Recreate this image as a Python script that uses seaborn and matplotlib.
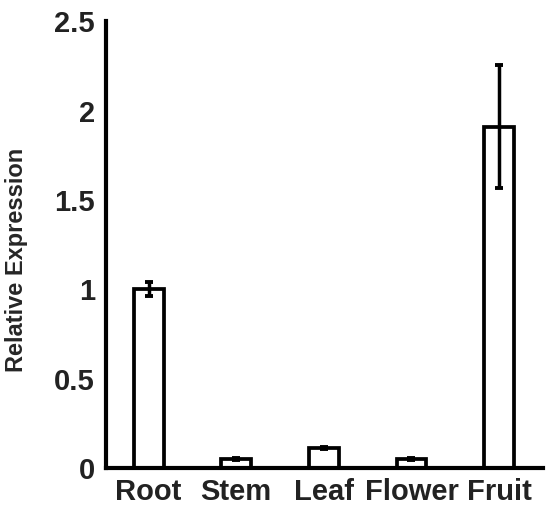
import numpy as np
import pandas as pd
import matplotlib
matplotlib.use("Agg")
import matplotlib.pyplot as plt
import seaborn as sns

# data
tissues = ["Root", "Stem", "Leaf", "Flower", "Fruit"]
expression = [1.0, 0.05, 0.11, 0.05, 1.91]
errors = [0.04, 0.005, 0.005, 0.005, 0.345]
y_ticks = [0, 0.5, 1, 1.5, 2, 2.5]
y_tick_labels = ["0", "0.5", "1", "1.5", "2", "2.5"]

df = pd.DataFrame({"Tissue": tissues, "Expression": expression, "Err": errors})

sns.set_theme(style="white")
plt.rcParams["font.family"] = ["Liberation Sans", "DejaVu Sans"]

fig = plt.figure(figsize=(5.5, 5.17), dpi=100)
ax = fig.add_axes([0.193, 0.095, 0.794, 0.864])

sns.barplot(data=df, x="Tissue", y="Expression", color="white",
            edgecolor="black", linewidth=2.7, width=0.34, errorbar=None, ax=ax)

ax.errorbar(np.arange(len(tissues)), df["Expression"], yerr=df["Err"],
            fmt="none", ecolor="black", elinewidth=2.5, capsize=3, capthick=2.8)

ax.set_ylim(0, 2.5)
ax.set_xlim(-0.485, 4.5)
ax.set_yticks(y_ticks)
ax.set_yticklabels(y_tick_labels)
ax.set_xlabel("")
ax.set_ylabel("Relative Expression", fontsize=17, fontweight="bold")
ax.yaxis.set_label_coords(-0.178, 0.465)

for side in ["top", "right"]:
    ax.spines[side].set_visible(False)
for side in ["left", "bottom"]:
    ax.spines[side].set_linewidth(3)
    ax.spines[side].set_color("black")

ax.tick_params(axis="y", direction="in", length=5, width=3, colors="black",
               labelsize=21, pad=8)
ax.tick_params(axis="x", length=0, labelsize=21, pad=7)
for lab in ax.get_xticklabels() + ax.get_yticklabels():
    lab.set_fontweight("bold")
    lab.set_color("#222222")

fig.savefig("out.png", dpi=100)
